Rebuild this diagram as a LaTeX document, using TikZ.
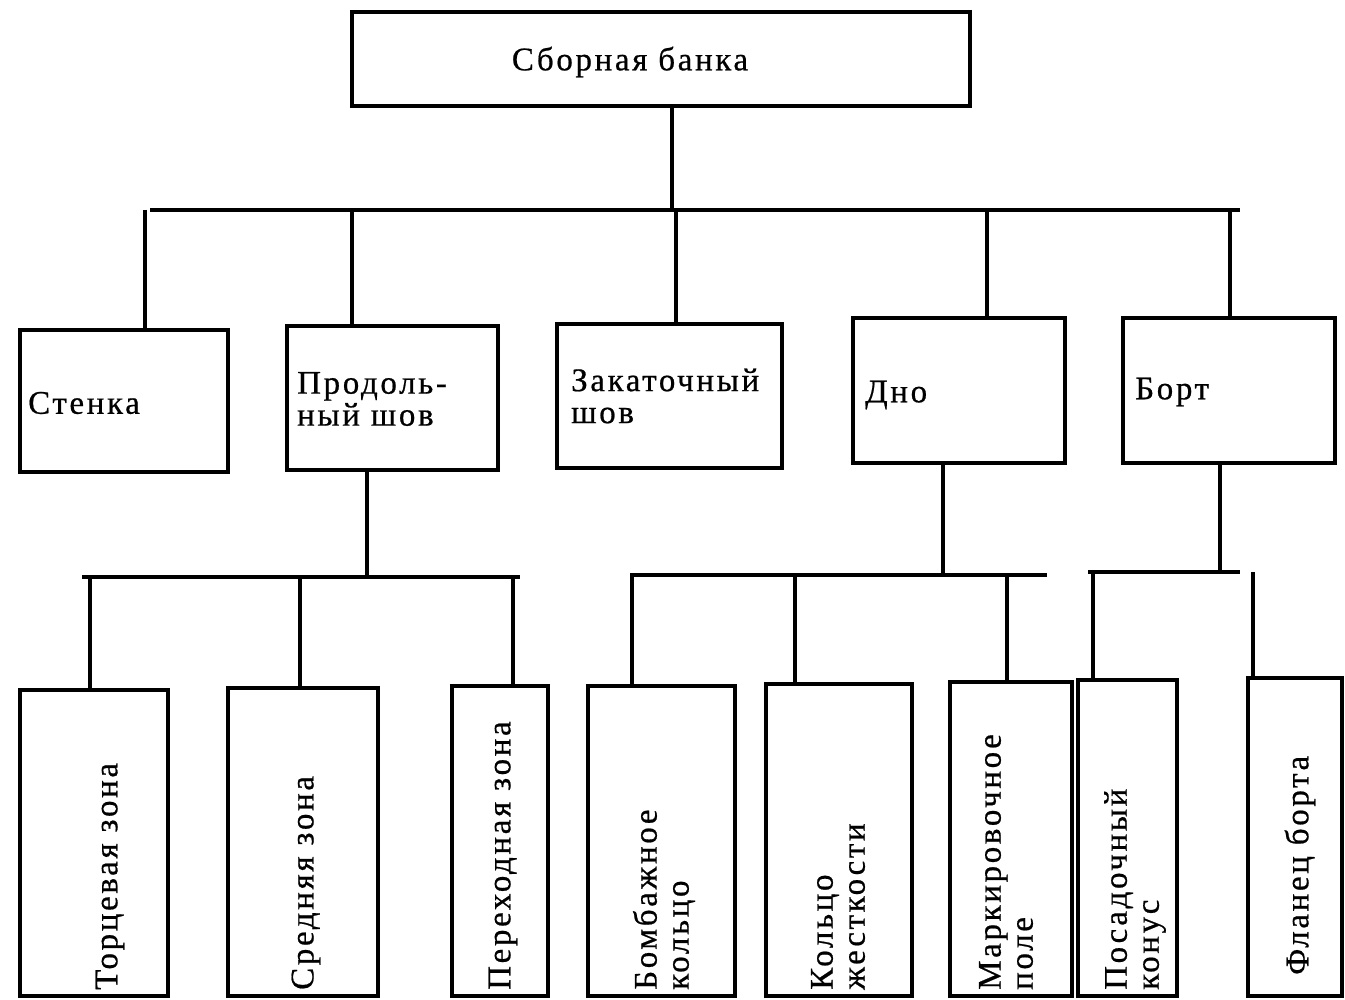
\documentclass[tikz,border=0pt]{standalone}
\usepackage{fontspec}
\setmainfont{Liberation Serif}[LetterSpace=8,FakeBold=0.6]
\begin{document}
\begin{tikzpicture}[x=1pt,y=-1pt,
  box/.style={draw, line width=3.3pt, inner sep=0pt},
  lbl/.style={inner sep=0pt, font=\fontsize{33}{32}\selectfont, align=left},
  vlbl/.style={lbl, rotate=90, anchor=west},
  conn/.style={line width=3.3pt}]
\useasboundingbox (0,0) rectangle (1345,1000);
% level 1
\node[box, minimum width=618, minimum height=94] (top) at (661,59) {};
\node[lbl] (ttop) at (630,62) {Сборная банка};
% level 2
\node[box, minimum width=208, minimum height=142] (stenka) at (124,401) {};
\node[box, minimum width=211, minimum height=144] (prod) at (392.5,398) {};
\node[box, minimum width=225, minimum height=144] (zak) at (669.5,396) {};
\node[box, minimum width=212, minimum height=145] (dno) at (959,390.5) {};
\node[box, minimum width=212, minimum height=145] (bort) at (1229,390.5) {};
\node[lbl, anchor=west] (tstenka) at (28,403) {Стенка};
\node[lbl, anchor=west] (tprod) at (297,399) {Продоль-\\ный шов};
\node[lbl, anchor=west] (tzak) at (571,396) {Закаточный\\шов};
\node[lbl, anchor=west] (tdno) at (865,395) {Дно};
\node[lbl, anchor=west] (tbort) at (1135,392) {Борт};
% level 3
\node[box, minimum width=148, minimum height=306] (torc) at (94,843) {};
\node[box, minimum width=150, minimum height=308] (sred) at (303,842) {};
\node[box, minimum width=96, minimum height=310] (perek) at (500,841) {};
\node[box, minimum width=147, minimum height=310] (bomb) at (661.5,841) {};
\node[box, minimum width=146, minimum height=312] (kolco) at (839,840) {};
\node[box, minimum width=122, minimum height=314] (mark) at (1011,839) {};
\node[box, minimum width=99, minimum height=316] (posad) at (1127.5,838) {};
\node[box, minimum width=94, minimum height=318] (flan) at (1295,837) {};
\node[vlbl] (ttorc) at (110,990) {Торцевая зона};
\node[vlbl] (tsred) at (306,990) {Средняя зона};
\node[vlbl] (tperek) at (503,990) {Переходная зона};
\node[vlbl] (tbomb) at (664,990) {Бомбажное\\кольцо};
\node[vlbl] (tkolco) at (838,990) {Кольцо\\жесткости};
\node[vlbl] (tmark) at (1006,990) {Маркировочное\\поле};
\node[vlbl] (tposad) at (1135,990) {Посадочный\\конус};
\node[vlbl] (tflan) at (1300,975) {Фланец борта};
% connectors level 1 -> 2
\coordinate (j1) at (672,210);
\coordinate (b1l) at (150,210);
\coordinate (b1r) at (1240,210);
\draw[conn] (top.south -| j1) -- (j1);
\draw[conn] (b1l) -- (b1r);
\draw[conn] (145,210) -- (stenka.north -| 145,0);
\draw[conn] (352,210) -- (prod.north -| 352,0);
\draw[conn] (676,210) -- (zak.north -| 676,0);
\draw[conn] (987,210) -- (dno.north -| 987,0);
\draw[conn] (1230,210) -- (bort.north -| 1230,0);
% connectors prod -> level 3
\coordinate (j2) at (367,577);
\draw[conn] (prod.south -| j2) -- (j2);
\draw[conn] (82,577) -- (520,577);
\draw[conn] (90,577) -- (torc.north -| 90,0);
\draw[conn] (300,577) -- (sred.north -| 300,0);
\draw[conn] (513,577) -- (perek.north -| 513,0);
% connectors dno -> level 3
\coordinate (j3) at (943,575);
\draw[conn] (dno.south -| j3) -- (j3);
\draw[conn] (630,575) -- (1047,575);
\draw[conn] (632,575) -- (bomb.north -| 632,0);
\draw[conn] (795,575) -- (kolco.north -| 795,0);
\draw[conn] (1007,575) -- (mark.north -| 1007,0);
% connectors bort -> level 3
\coordinate (j4) at (1220,572);
\draw[conn] (bort.south -| j4) -- (j4);
\draw[conn] (1088,572) -- (1240,572);
\draw[conn] (1093,572) -- (posad.north -| 1093,0);
\draw[conn] (1253,572) -- (flan.north -| 1253,0);
\end{tikzpicture}
\end{document}
